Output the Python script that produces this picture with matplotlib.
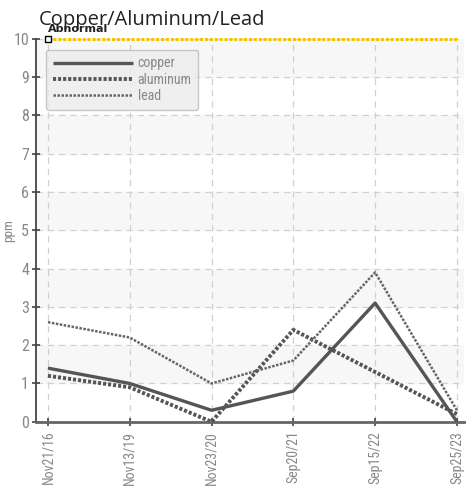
import numpy as np
import matplotlib.pyplot as plt

# data
dates = ['Nov21/16', 'Nov13/19', 'Nov23/20', 'Sep20/21', 'Sep15/22', 'Sep25/23']
copper = [1.4, 1.0, 0.3, 0.8, 3.1, 0.0]
aluminum = [1.2, 0.9, 0.0, 2.4, 1.3, 0.2]
lead = [2.6, 2.2, 1.0, 1.6, 3.9, 0.3]
abnormal = 10

plt.rcParams['font.family'] = ['Roboto Condensed', 'DejaVu Sans']

fig = plt.figure(figsize=(4.66, 4.91), dpi=100)
ax = fig.add_axes([0.0773, 0.141, 0.919, 0.780])
x = np.arange(len(dates))

# alternating bands
for lo in range(1, 10, 2):
    ax.axhspan(lo, lo + 1, color='#f7f7f7', zorder=0)

ax.grid(True, color='#d0d0d0', linestyle=(0, (5, 4)), linewidth=0.9)
ax.set_axisbelow(True)

line_col = '#555555'
ax.plot(x, copper, color=line_col, lw=2.4, solid_capstyle='butt', label='copper', zorder=3)
ax.plot(x, aluminum, color=line_col, lw=2.8, linestyle=(0, (0.8, 0.5)), label='aluminum', zorder=3)
ax.plot(x, lead, color='#666666', lw=1.8, linestyle=(0, (1.0, 0.6)), label='lead', zorder=3)

# abnormal limit
ax.plot([x[0], x[-1]], [abnormal, abnormal], color='#f5c400', lw=2.2,
        linestyle=(0, (1, 0.6)), zorder=4, clip_on=False)
ax.plot([x[0]], [abnormal], marker='s', ms=4.5, mfc='white', mec='black',
        mew=1.0, zorder=5, clip_on=False)
ax.text(x[0], abnormal + 0.12, 'Abnormal', fontsize=8, fontweight='bold',
        family=['DejaVu Sans'], color='#222222', va='bottom', ha='left')

ax.set_xlim(x[0] - 0.146, x[-1] + 0.09)
ax.set_ylim(0, 10)
ax.set_xticks(x)
ax.set_xticklabels(dates, rotation=90, fontsize=10)
ax.set_yticks(range(0, 11))
ax.tick_params(axis='y', labelsize=11.5, colors='#444444', direction='inout', length=6,
               width=1.2, pad=2)
ax.tick_params(axis='x', colors='#444444', direction='inout', length=6, width=1.2)
for lab in ax.get_yticklabels() + ax.get_xticklabels():
    lab.set_color('#888888')

for s in ['top', 'right']:
    ax.spines[s].set_visible(False)
ax.spines['left'].set_color('#444444')
ax.spines['left'].set_linewidth(1.3)
ax.spines['bottom'].set_color('#666666')
ax.spines['bottom'].set_linewidth(2.0)

fig.text(0.019, 0.53, 'ppm', fontsize=9.5, color='#888888', rotation=90,
         ha='center', va='center')

leg = ax.legend(loc='upper left', bbox_to_anchor=(0.023, 0.972), fontsize=10,
                handlelength=5.8, handletextpad=0.3, labelspacing=0.15,
                frameon=True, fancybox=True, borderpad=0.5, borderaxespad=0.0)
leg.get_frame().set_facecolor('#ececec')
leg.get_frame().set_edgecolor('#bbbbbb')
for t in leg.get_texts():
    t.set_color('#888888')

fig.text(0.084, 0.938, 'Copper/Aluminum/Lead', fontsize=14.5, family=['Open Sans', 'DejaVu Sans'],
         color='#222222', ha='left', va='bottom')

fig.savefig('out.png', dpi=100)
